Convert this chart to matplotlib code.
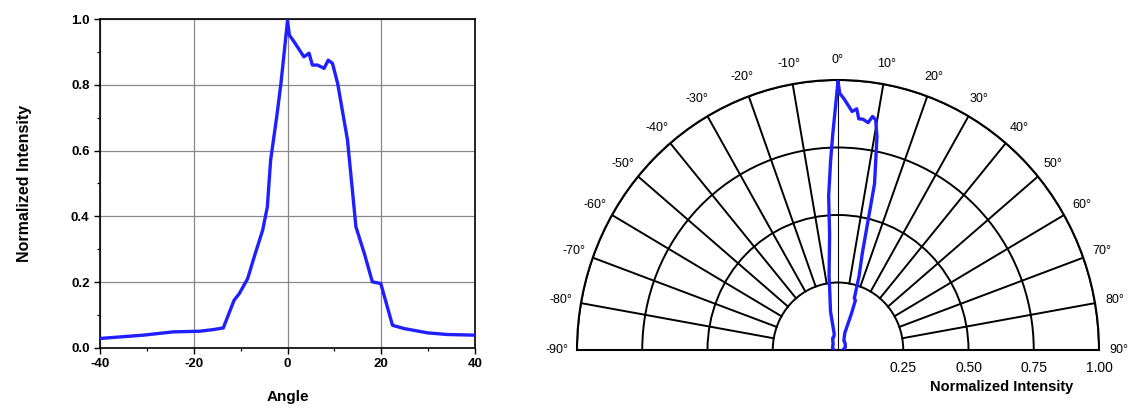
import numpy as np
import matplotlib
matplotlib.use("Agg")
import matplotlib.pyplot as plt

plt.rcParams['font.family'] = ['Liberation Sans', 'DejaVu Sans']
plt.rcParams['axes.unicode_minus'] = False

# Measured far-field profile: angle (deg) vs normalized intensity
angle_deg = [-90.0, -70.0, -50.0,
             -40.0, -30.8, -24.4, -18.7, -15.8, -13.7, -11.4, -10.3, -8.5, -7.1,
             -5.3, -4.3, -3.6, -2.3, -1.4, 0.0, 0.4, 1.4, 3.5, 4.6,
             5.3, 6.4, 7.8, 8.7, 9.6, 10.7, 12.8, 14.6, 16.4, 18.1,
             19.9, 20.9, 22.4, 24.9, 29.9, 34.1, 40.0,
             50.0, 70.0, 90.0]
intensity = [0.015, 0.022, 0.026,
             0.029, 0.039, 0.049, 0.051, 0.056, 0.061, 0.145, 0.165, 0.211, 0.277,
             0.358, 0.429, 0.571, 0.703, 0.804, 0.995, 0.951, 0.931, 0.885, 0.896,
             0.860, 0.860, 0.850, 0.875, 0.865, 0.804, 0.632, 0.368, 0.287, 0.201,
             0.196, 0.145, 0.069, 0.059, 0.046, 0.041, 0.039,
             0.036, 0.030, 0.018]

x_ticks = [-40, -20, 0, 20, 40]
y_ticks = [0.0, 0.2, 0.4, 0.6, 0.8, 1.0]
theta_ticks = list(range(-90, 91, 10))
r_ticks = [0.25, 0.50, 0.75, 1.00]

BLUE = '#1f1fff'

fig = plt.figure(figsize=(11.29, 4.08), dpi=100)

# ---- Cartesian profile ----
ax1 = fig.add_axes([100 / 1129, 60 / 408, 375 / 1129, 329 / 408])
ax1.plot(angle_deg, intensity, color=BLUE, lw=2.4, zorder=3)
ax1.set_xlim(-40, 40)
ax1.set_ylim(0, 1.0)
ax1.set_xticks(x_ticks)
ax1.set_xticks(np.arange(-30, 40, 20), minor=True)
ax1.set_yticks(y_ticks)
ax1.set_yticklabels([f"{v:.1f}" for v in y_ticks])
ax1.set_yticks(np.arange(0.1, 1.0, 0.2), minor=True)
ax1.grid(True, which='major', color='#888888', lw=0.9)
ax1.tick_params(which='major', direction='out', length=4, width=1.0,
                labelsize=9.5)
ax1.tick_params(which='minor', direction='out', length=2.5, width=0.9)
for lab in ax1.get_xticklabels() + ax1.get_yticklabels():
    lab.set_fontweight('bold')
for sp in ax1.spines.values():
    sp.set_linewidth(1.2)
ax1.set_xlabel('Angle', fontsize=11, fontweight='bold', labelpad=14)
ax1.set_ylabel('Normalized Intensity', fontsize=11.5, fontweight='bold',
               labelpad=28)

# ---- Polar profile (upper half plane) ----
ax2 = fig.add_axes([577 / 1129, -77 / 408, 522 / 1129, 540 / 408],
                   projection='polar')
ax2.set_aspect('auto')
ax2.set_theta_zero_location('N')
ax2.set_theta_direction(-1)
ax2.set_thetamin(-90)
ax2.set_thetamax(90)
ax2.set_ylim(0, 1.0)

ax2.set_thetagrids(theta_ticks, [f"{t}°" for t in theta_ticks])
ax2.xaxis.grid(False)
ax2.set_yticks(r_ticks)
ax2.set_yticklabels([])
ax2.yaxis.grid(True, color='black', lw=1.4)
ax2.tick_params(axis='x', labelsize=9, pad=4)

# spokes between the inner ring and the rim
for t in theta_ticks[1:-1]:
    r0 = 0.0 if t == 0 else r_ticks[0]
    lw = 0.8 if t == 0 else 1.4
    ax2.plot([np.deg2rad(t)] * 2, [r0, 1.0], color='black', lw=lw, zorder=2)

for sp in ax2.spines.values():
    sp.set_linewidth(1.5)
    sp.set_color('black')

ax2.plot(np.deg2rad(angle_deg), intensity, color=BLUE, lw=2.4, zorder=3)

for r in r_ticks:
    ax2.annotate(f"{r:.2f}", xy=(np.pi / 2, r), xytext=(0, -13),
                 textcoords='offset points', ha='center', va='center',
                 fontsize=10, annotation_clip=False)
ax2.annotate('Normalized Intensity', xy=(np.pi / 2, 0.625), xytext=(0, -27),
             textcoords='offset points', ha='center', va='center',
             fontsize=10.5, fontweight='bold', annotation_clip=False)

fig.savefig('out.png', dpi=100)
